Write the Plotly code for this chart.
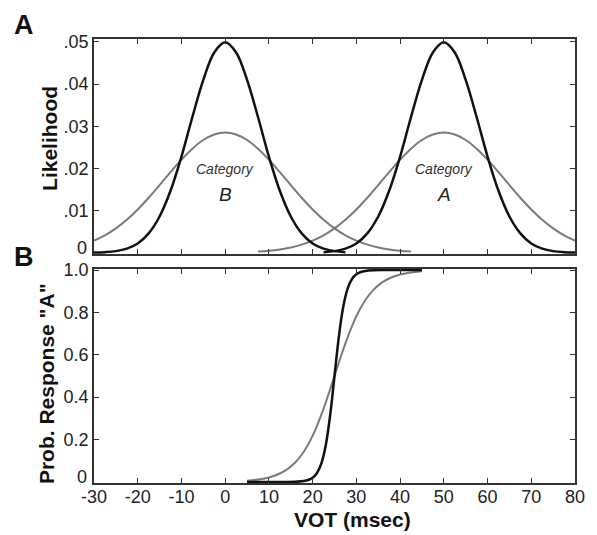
import plotly.graph_objects as go
from plotly.subplots import make_subplots

# ---------------- data ----------------
# Panel A: likelihood curves, VOT sampled every 2.5 ms from -30 to 80
vot = [-30 + 2.5 * i for i in range(45)]
N = None  # not drawn

narrow_B = [0.00004, 0.00014, 0.00038, 0.00096, 0.0022, 0.0046, 0.0086, 0.0147, 0.0228,
            0.0322, 0.0410, 0.0475, 0.0499, 0.0475, 0.0410, 0.0322, 0.0228, 0.0147,
            0.0086, 0.0046, 0.0022, 0.00096, 0.00038, 0.00014, N, N,
            N, N, N, N, N, N, N, N, N, N, N, N, N, N, N, N, N, N, N]
narrow_A = [N, N, N, N, N, N, N, N, N, N, N, N, N, N, N, N, N, N, N,
            N, N, 0.00014, 0.00038, 0.00096, 0.0022, 0.0046, 0.0086,
            0.0147, 0.0228, 0.0322, 0.0410, 0.0475, 0.0499, 0.0475, 0.0410, 0.0322,
            0.0228, 0.0147, 0.0086, 0.0046, 0.0022, 0.00096, 0.00038, 0.00014, 0.00004]
wide_B = [0.00287, 0.00414, 0.00579, 0.00783, 0.01027, 0.01305, 0.01605, 0.01913, 0.02208,
          0.02469, 0.02674, 0.02805, 0.0285, 0.02805, 0.02674, 0.02469, 0.02208, 0.01913,
          0.01605, 0.01305, 0.01027, 0.00783, 0.00579, 0.00414, 0.00287, 0.00193, 0.00125,
          0.00079, 0.00048, 0.00028, N, N, N, N, N,
          N, N, N, N, N, N, N, N, N, N]
wide_A = [N, N, N, N, N, N, N, N, N, N,
          N, N, N, N, N, 0.00028, 0.00048, 0.00079, 0.00125,
          0.00193, 0.00287, 0.00414, 0.00579, 0.00783, 0.01027, 0.01305, 0.01605, 0.01913,
          0.02208, 0.02469, 0.02674, 0.02805, 0.0285, 0.02805, 0.02674, 0.02469, 0.02208,
          0.01913, 0.01605, 0.01305, 0.01027, 0.00783, 0.00579, 0.00414, 0.00287]

# Panel B: probability of responding "A"
vot_post = [5, 8, 10, 12, 14, 16, 18, 19, 20, 21, 22, 23, 24, 25, 26, 27, 28, 29, 30,
            31, 32, 34, 36, 38, 40, 42, 44, 45]
prob_narrow = [0, 0, 0.00001, 0.00004, 0.0002, 0.0009, 0.0042, 0.0091, 0.0197, 0.042,
               0.0876, 0.1733, 0.314, 0.5, 0.686, 0.8267, 0.9124, 0.958, 0.9803, 0.9909,
               0.9958, 0.9991, 0.9998, 1, 1, 1, 1, 1]
prob_wide = [0.006, 0.0129, 0.0213, 0.035, 0.057, 0.0914, 0.1436, 0.1779, 0.2183, 0.2649,
             0.3175, 0.3751, 0.4366, 0.5, 0.5634, 0.6249, 0.6825, 0.7351, 0.7817, 0.8221,
             0.8564, 0.9086, 0.943, 0.965, 0.9787, 0.9871, 0.9922, 0.994]

x_ticks = [-30, -20, -10, 0, 10, 20, 30, 40, 50, 60, 70, 80]
lik_ticks = [0.01, 0.02, 0.03, 0.04, 0.05]
lik_labels = [".01", ".02", ".03", ".04", ".05"]
prob_ticks = [0.2, 0.4, 0.6, 0.8, 1.0]
prob_labels = ["0.2", "0.4", "0.6", "0.8", "1.0"]
zero_label = "0"

# ---------------- figure ----------------
BLACK = "#111111"
GRAY = "#7a7a7a"
FONT = "Arial, Liberation Sans, sans-serif"

fig = make_subplots(rows=2, cols=1)

for ys in (wide_B, wide_A):
    fig.add_trace(go.Scatter(x=vot, y=ys, mode="lines", connectgaps=False,
                             line=dict(color=GRAY, width=2, shape="spline"),
                             showlegend=False), row=1, col=1)
for ys in (narrow_B, narrow_A):
    fig.add_trace(go.Scatter(x=vot, y=ys, mode="lines", connectgaps=False,
                             line=dict(color=BLACK, width=2.5, shape="spline"),
                             showlegend=False), row=1, col=1)

fig.add_trace(go.Scatter(x=vot_post, y=prob_wide, mode="lines",
                         line=dict(color=GRAY, width=2, shape="spline"), showlegend=False), row=2, col=1)
fig.add_trace(go.Scatter(x=vot_post, y=prob_narrow, mode="lines",
                         line=dict(color=BLACK, width=2.5, shape="spline"), showlegend=False), row=2, col=1)

TICKFONT = dict(family=FONT, size=18, color="#222222")
axis_common = dict(showgrid=False, zeroline=False, showline=True, linecolor="#333333", linewidth=1.5,
                   mirror="allticks", ticks="inside", ticklen=5, tickwidth=1.2, tickcolor="#333333",
                   tickfont=TICKFONT)

fig.update_xaxes(axis_common)
fig.update_yaxes(axis_common)

fig.update_xaxes(range=[-30, 80], tickvals=x_ticks, showticklabels=False, domain=[0, 1], row=1, col=1)
fig.update_xaxes(range=[-30, 80], tickvals=x_ticks, ticktext=[str(v) for v in x_ticks],
                 ticklabelstandoff=-3, domain=[0, 1], row=2, col=1)
fig.update_yaxes(range=[-0.0003, 0.0507], tickvals=lik_ticks, ticktext=lik_labels,
                 domain=[0.5158, 1.0], row=1, col=1)
fig.update_yaxes(range=[-0.005, 1.005], tickvals=prob_ticks, ticktext=prob_labels,
                 domain=[0.0, 0.482], row=2, col=1)

# the "0" labels sit slightly above the baseline, as in the reference
fig.add_annotation(xref="paper", yref="y", x=-0.0102, y=0.0012, text=zero_label, showarrow=False,
                   xanchor="right", yanchor="middle", font=TICKFONT)
fig.add_annotation(xref="paper", yref="y2", x=-0.0102, y=0.022, text=zero_label, showarrow=False,
                   xanchor="right", yanchor="middle", font=TICKFONT)

annots = [
    dict(text="Likelihood", x=-0.0937, y=0.777, textangle=-90,
         font=dict(family=FONT, size=21, color="#111111", weight="bold")),
    dict(text='Prob. Response "A"', x=-0.0998, y=0.225, textangle=-90,
         font=dict(family=FONT, size=21, color="#111111", weight="bold")),
    dict(text="VOT (msec)", x=0.5367, y=-0.0815,
         font=dict(family=FONT, size=21, color="#111111", weight="bold")),
    dict(text="A", x=-0.1446, y=1.0315, font=dict(family=FONT, size=27, color="#111111", weight="bold")),
    dict(text="B", x=-0.1446, y=0.509, font=dict(family=FONT, size=27, color="#111111", weight="bold")),
]
for a in annots:
    fig.add_annotation(xref="paper", yref="paper", showarrow=False, xanchor="center", yanchor="middle", **a)

for cx, cat in ((0, "B"), (50, "A")):
    fig.add_annotation(xref="x", yref="y", x=cx, y=0.0199, text="Category", showarrow=False,
                       font=dict(family=FONT, size=14, color="#333333", style="italic"))
    fig.add_annotation(xref="x", yref="y", x=cx, y=0.0139, text=cat, showarrow=False,
                       font=dict(family=FONT, size=19, color="#222222", style="italic"))

fig.update_layout(width=597, height=535, margin=dict(l=94, r=12, t=39, b=52),
                  plot_bgcolor="white", paper_bgcolor="white", showlegend=False)

fig.write_html("out.html", config={"displayModeBar": False},
               post_script="document.body.style.margin='0';document.body.style.padding='0';")
